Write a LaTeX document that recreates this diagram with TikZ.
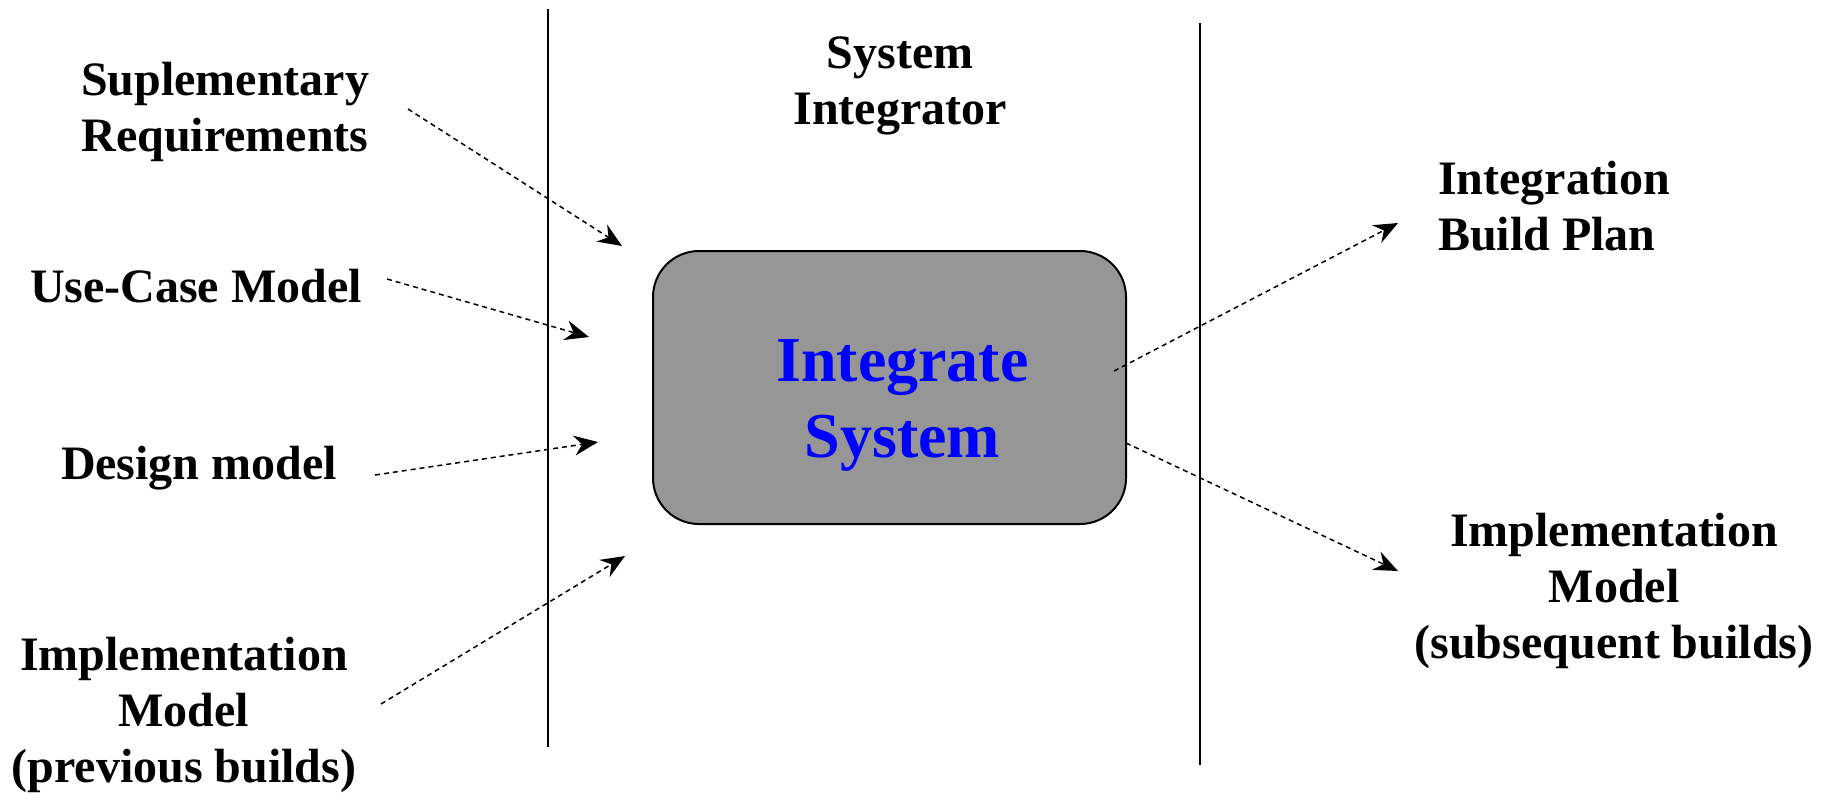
\documentclass[tikz,border=0pt]{standalone}
\usepackage{fontspec}
\setmainfont{Liberation Serif}
\usepackage{xcolor}
\usetikzlibrary{arrows.meta,positioning}

\definecolor{boxgray}{RGB}{150,150,150}

\begin{document}
\begin{tikzpicture}[
    x=0.5pt, y=-0.5pt,
    >={Stealth[length=12pt, width=10pt, inset=4pt]},
    label/.style={align=center, inner sep=0pt, font=\fontsize{24}{28}\selectfont\bfseries},
    activity/.style={draw, line width=1pt, fill=boxgray, rounded corners=23pt, minimum width=236.5pt, minimum height=136.5pt},
    activitytext/.style={align=center, inner sep=0pt, text=blue, font=\fontsize{32}{38}\selectfont\bfseries},
    lane/.style={line width=0.75pt},
    flow/.style={->, line width=0.75pt, dash pattern=on 2.5pt off 2pt}
]
\useasboundingbox (0,0) rectangle (1839,799);

% Swimlane borders and worker name
\coordinate (laneAtop) at (548,9);
\coordinate (laneAbot) at (548,747);
\coordinate (laneBtop) at (1200,23);
\coordinate (laneBbot) at (1200,765);
\draw[lane] (laneAtop) -- (laneAbot);
\draw[lane] (laneBtop) -- (laneBbot);
\node[label] (worker) at (900,86) {System\\Integrator};

% Activity
\node[activity] (integrate) at (889.5,387.5) {};
\node[activitytext] (integratetext) at ([xshift=6.5pt, yshift=-9pt]integrate.center) {Integrate\\System};

% Input artifacts
\node[label] (supreq) at (225,112) {Suplementary\\Requirements};
\node[label] (usecase) at (196,286) {Use-Case Model};
\node[label] (design) at (199,468) {Design model};
\node[label] (implprev) at (184,715) {Implementation\\Model\\(previous builds)};

% Output artifacts
\node[label, align=left] (buildplan) at (1554,206) {Integration\\Build Plan};
\node[label] (implnext) at (1614,591) {Implementation\\Model\\(subsequent builds)};

% Arrow end points
\coordinate (supreqS) at (408,109);
\coordinate (supreqE) at (622,246);
\coordinate (usecaseS) at (387,279);
\coordinate (usecaseE) at (589,337);
\coordinate (designS) at (375,475);
\coordinate (designE) at (598,442);
\coordinate (implprevS) at (381,704);
\coordinate (implprevE) at (625,556);
\coordinate (planS) at (1114,371);
\coordinate (planE) at (1398,223);
\coordinate (nextS) at (1126,443);
\coordinate (nextE) at (1398,571);

\draw[flow] (supreqS) -- (supreqE);
\draw[flow] (usecaseS) -- (usecaseE);
\draw[flow] (designS) -- (designE);
\draw[flow] (implprevS) -- (implprevE);
\draw[flow] (planS) -- (planE);
\draw[flow] (nextS) -- (nextE);

\end{tikzpicture}
\end{document}
